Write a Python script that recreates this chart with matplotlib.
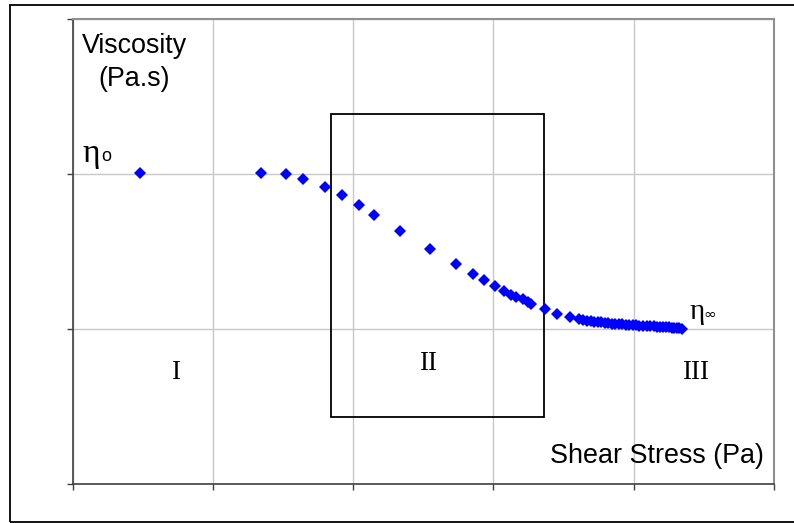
import matplotlib
matplotlib.use("Agg")
import matplotlib.pyplot as plt
from matplotlib.patches import Rectangle

# Data (arbitrary units)
shear_stress = [0.479, 1.340, 1.523, 1.641, 1.796, 1.919, 2.038, 2.149, 2.335, 2.545,
                2.730, 2.851, 2.932, 3.013, 3.072, 3.125, 3.160, 3.207, 3.243, 3.271,
                3.364, 3.452, 3.547, 3.611, 3.640, 3.668, 3.692, 3.717, 3.742, 3.767,
                3.792, 3.817, 3.842, 3.867, 3.892, 3.917, 3.942, 3.967, 3.992, 4.016,
                4.041, 4.066, 4.091, 4.116, 4.141, 4.166, 4.188, 4.209, 4.230, 4.251,
                4.270, 4.287, 4.305, 4.323, 4.344]
viscosity = [2.006, 2.008, 1.998, 1.970, 1.916, 1.863, 1.798, 1.734, 1.632, 1.514,
             1.419, 1.355, 1.312, 1.275, 1.245, 1.217, 1.203, 1.190, 1.174, 1.161,
             1.127, 1.093, 1.074, 1.063, 1.058, 1.053, 1.049, 1.046, 1.043, 1.041,
             1.039, 1.037, 1.034, 1.032, 1.030, 1.028, 1.026, 1.025, 1.023, 1.022,
             1.020, 1.019, 1.017, 1.016, 1.015, 1.014, 1.012, 1.011, 1.010, 1.009,
             1.008, 1.007, 1.006, 1.005, 1.001]
x_ticks = [0, 1, 2, 3, 4, 5]
y_ticks = [0, 1, 2, 3]
region_box = (1.844, 0.432, 3.360, 2.387)  # x0, y0, x1, y1
region_labels = ["I", "II", "III"]

fig = plt.figure(figsize=(7.94, 5.23), dpi=100)
fig.patch.set_facecolor("white")

# outer frame
fig.add_artist(Rectangle((10 / 794, 0.6 / 523), 1.1, (517.5) / 523,
                         transform=fig.transFigure, fill=False,
                         edgecolor="black", linewidth=1.3, clip_on=False))

ax = fig.add_axes([72.7 / 794, (523 - 483.7) / 523, (774 - 72.7) / 794, (483.7 - 19) / 523])
ax.set_xlim(x_ticks[0], x_ticks[-1])
ax.set_ylim(y_ticks[0], y_ticks[-1])
ax.set_xticks(x_ticks)
ax.set_yticks(y_ticks)
ax.set_xticklabels([])
ax.set_yticklabels([])
ax.tick_params(direction="out", length=4, width=1, color="#404040")
ax.grid(True, color="#c8c8c8", linewidth=1)
ax.set_axisbelow(True)
for s in ["left", "bottom"]:
    ax.spines[s].set_color("#404040")
    ax.spines[s].set_linewidth(1.2)
for s in ["top", "right"]:
    ax.spines[s].set_color("#909090")
    ax.spines[s].set_linewidth(1.5)

ax.add_patch(Rectangle((region_box[0], region_box[1]), region_box[2] - region_box[0],
                       region_box[3] - region_box[1], fill=False, edgecolor="black",
                       linewidth=1.3, zorder=3))

ax.plot(shear_stress, viscosity, linestyle="none", marker="D", markersize=6.5,
        color="#0000ff", markeredgewidth=0, zorder=4, clip_on=False)

sans = "Liberation Sans"
serif = "Liberation Serif"
ax.text(0.441, 2.783, "Viscosity", ha="center", va="baseline", fontsize=19.4, family=sans)
ax.text(0.441, 2.566, "(Pa.s)", ha="center", va="baseline", fontsize=19.4, family=sans)
ax.text(4.931, 0.135, "Shear Stress (Pa)", ha="right", va="baseline", fontsize=19.4, family=sans)

ax.text(0.736, 0.675, region_labels[0], ha="center", va="baseline", fontsize=19.6, family=serif)
ax.text(2.531, 0.734, region_labels[1], ha="center", va="baseline", fontsize=19.6, family=serif)
ax.text(4.440, 0.674, region_labels[2], ha="center", va="baseline", fontsize=19.6, family=serif)

ax.text(0.072, 2.077, "η", ha="left", va="baseline", fontsize=24, family=serif)
ax.text(0.200, 2.083, "o", ha="left", va="baseline", fontsize=13, family=sans)
ax.text(4.396, 1.061, "η", ha="left", va="baseline", fontsize=21, family=serif)
ax.text(4.495, 1.066, "∞", ha="left", va="baseline", fontsize=11, family="DejaVu Sans")

fig.savefig("out.png", dpi=100)
